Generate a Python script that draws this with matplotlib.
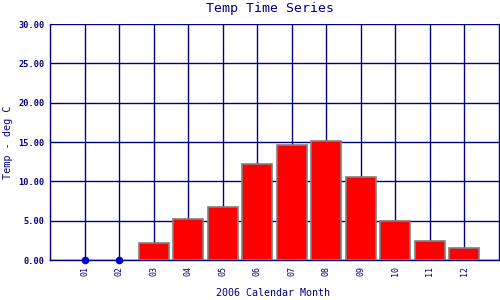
# Temp time series bar chart ------------------------------------------------+
import numpy as np
import matplotlib
matplotlib.use('Agg')
import matplotlib.pyplot as plt

# DATA -----------------------------------------------------------------------+
months = ['01','02','03','04','05','06','07','08','09','10','11','12']
temps = [np.nan, np.nan, 2.12, 5.17, 6.69, 12.16, 14.57, 15.16, 10.59, 4.91, 2.37, 1.48]
yticks = [0.0, 5.0, 10.0, 15.0, 20.0, 25.0, 30.0]

# STYLE ----------------------------------------------------------------------+
navy = '#000080'
plt.rcParams['font.family'] = ['DejaVu Sans Mono']

fig = plt.figure(figsize=(5, 3), dpi=100)
ax = fig.add_axes([0.1, 0.1333, 0.898, 0.7867])

x = np.arange(1, len(months) + 1)
vals = np.array(temps, dtype=float)
have = ~np.isnan(vals)

ax.set_axisbelow(True)
ax.grid(True, color=navy, linewidth=1.0)
ax.bar(x[have], vals[have], width=0.87, color='#ff0000', edgecolor='#808080', linewidth=1.2, zorder=3)
# months with no data drawn as dots on the axis
ax.plot(x[~have], np.zeros((~have).sum()), 'o', color='#0000cc', markersize=4.5, zorder=4, clip_on=False)

ax.set_xlim(0, 13)
ax.set_ylim(0, 30)
ax.set_xticks(x)
ax.set_xticklabels(months, rotation=90, fontsize=6, color=navy)
ax.set_yticks(yticks)
ax.set_yticklabels(['%.2f' % v for v in yticks], fontsize=6.2, color=navy, fontweight='bold')
ax.tick_params(length=0, pad=4)
for s in ax.spines.values():
	s.set_color(navy)
	s.set_linewidth(1.0)
ax.spines['top'].set_visible(False)

# titles placed by figure pixel position
fig.text(0.54, 0.973, 'Temp Time Series', fontsize=9.5, color=navy, ha='center', va='center')
fig.text(0.016, 0.527, 'Temp - deg C', fontsize=7.3, color=navy, ha='center', va='center', rotation=90)
fig.text(0.546, 0.023, '2006 Calendar Month', fontsize=7.2, color=navy, ha='center', va='center')

fig.savefig('out.png', dpi=100)
